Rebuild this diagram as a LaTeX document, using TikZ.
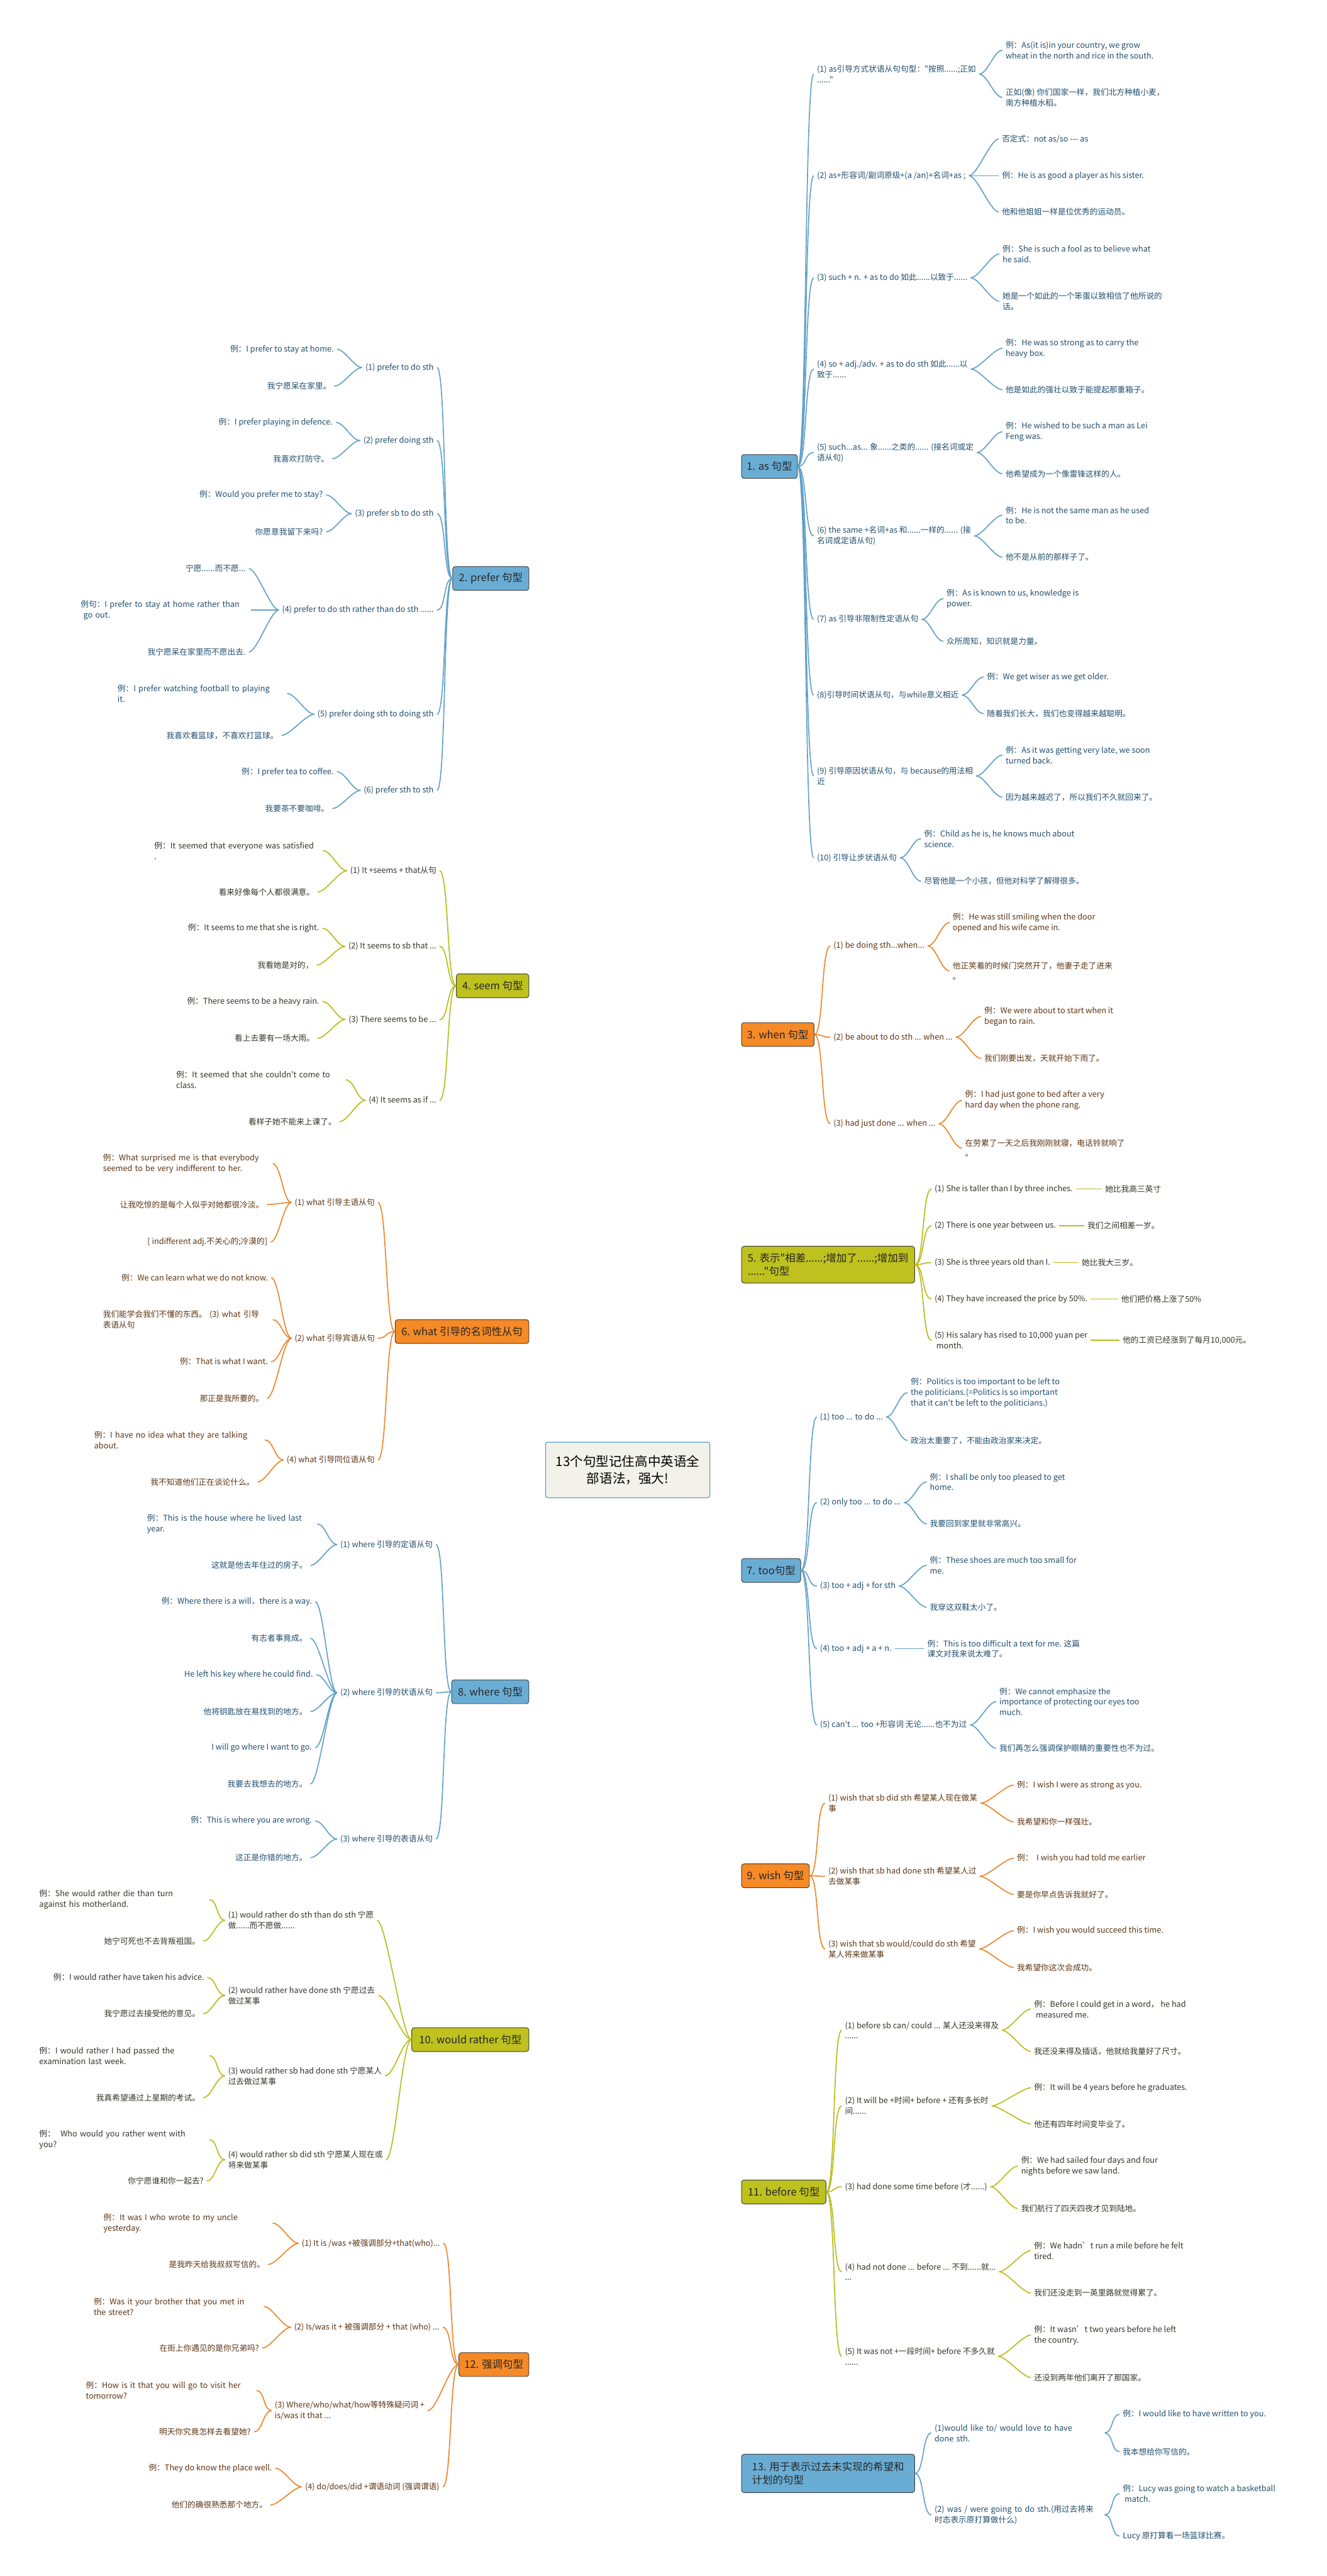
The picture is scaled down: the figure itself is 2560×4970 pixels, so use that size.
\documentclass[tikz,border=0pt]{standalone}
\usepackage{fontspec}
\newfontfamily\ncjk{Noto Sans CJK SC}
\usetikzlibrary{backgrounds}
\definecolor{blueA}{RGB}{106,173,212}
\definecolor{blueL}{RGB}{96,160,200}
\definecolor{blueT}{RGB}{33,78,110}
\definecolor{orA}{RGB}{246,138,38}
\definecolor{orL}{RGB}{238,132,40}
\definecolor{orT}{RGB}{92,52,18}
\definecolor{olA}{RGB}{190,193,30}
\definecolor{olL}{RGB}{184,188,24}
\definecolor{olT}{RGB}{52,52,40}
\definecolor{ctrF}{RGB}{242,242,234}

\begin{document}
\begin{tikzpicture}[x=1pt, y=-1pt,
    topic/.style={draw=black!75, line width=1.2pt, rounded corners=5pt, align=left, inner xsep=10pt, minimum height=46pt, text=black!85, font=\ncjk\fontsize{20}{26}\selectfont},
    rtopic/.style={topic, anchor=west},
    ltopic/.style={topic, anchor=east},
    itemR/.style={anchor=west, align=left, inner xsep=6pt, inner ysep=2pt, font=\ncjk\fontsize{15.4}{20.5}\selectfont},
    itemL/.style={itemR, anchor=east},
    bR/.style={itemR, text=blueT}, bL/.style={itemL, text=blueT},
    oR/.style={itemR, text=orT}, oL/.style={itemL, text=orT},
    gR/.style={itemR, text=olT}, gL/.style={itemL, text=olT},
    mainline/.style={line width=3pt},
    subline/.style={line width=2pt}
]
\fill[white] (0,0) rectangle (2560,4970);
\useasboundingbox (0,0) rectangle (2560,4970);

% centre
\node[draw=blueL, line width=1.5pt, fill=ctrF, rounded corners=4pt, minimum width=317pt, minimum height=107pt, align=center, font=\ncjk\fontsize{25}{33}\selectfont] (ctr) at (1211,2836) {13个句型记住高中英语全\\部语法，强大!};

% main topics, right
\node[rtopic, fill=blueA, minimum width=107pt] (b1) at (1430,900) {1. as 句型};
\node[rtopic, fill=orA, minimum width=140pt] (b3) at (1430,1996) {3. when 句型};
\node[rtopic, fill=olA, minimum width=334pt, minimum height=71pt] (b5) at (1430,2440) {5. 表示"相差......;增加了......;增加到\\......"句型};
\node[rtopic, fill=blueA, minimum width=114pt] (b7) at (1430,3030) {7. too句型};
\node[rtopic, fill=orA, minimum width=131pt] (b9) at (1430,3619) {9. wish 句型};
\node[rtopic, fill=olA, minimum width=163pt] (b11) at (1430,4229) {11. before 句型};
\node[rtopic, fill=blueA, minimum width=334pt, minimum height=74pt] (b13) at (1430,4772) {13. 用于表示过去未实现的希望和\\计划的句型};
% main topics, left
\node[ltopic, fill=blueA, minimum width=147pt] (b2) at (1021,1116) {2. prefer 句型};
\node[ltopic, fill=olA, minimum width=140pt] (b4) at (1021,1902) {4. seem 句型};
\node[ltopic, fill=orA, minimum width=258pt] (b6) at (1021,2569) {6. what 引导的名词性从句};
\node[ltopic, fill=blueA, minimum width=149pt] (b8) at (1021,3264) {8. where 句型};
\node[ltopic, fill=olA, minimum width=226pt] (b10) at (1021,3935) {10. would rather 句型};
\node[ltopic, fill=orA, minimum width=135pt] (b12) at (1021,4562) {12. 强调句型};

% 1. as
\node[bR] (a1) at (1570,143) {(1) as引导方式状语从句句型："按照......;正如\\......"};
\node[bR] (a1-1) at (1934,97) {例：As(it is)in your country, we grow\\wheat in the north and rice in the south.};
\node[bR] (a1-2) at (1934,188) {正如(像) 你们国家一样，我们北方种植小麦，\\南方种植水稻。};
\node[bR] (a2) at (1570,339) {(2) as+形容词/副词原级+(a /an)+名词+as ;};
\node[bR] (a2-1) at (1927,268) {否定式：not as/so --- as};
\node[bR] (a2-2) at (1927,339) {例：He is as good a player as his sister.};
\node[bR] (a2-3) at (1927,409) {他和他姐姐一样是位优秀的运动员。};
\node[bR] (a3) at (1570,536) {(3) such + n. + as to do 如此......以致于......};
\node[bR] (a3-1) at (1928,490) {例：She is such a fool as to believe what\\he said.};
\node[bR] (a3-2) at (1928,581) {她是一个如此的一个笨蛋以致相信了他所说的\\话。};
\node[bR] (a4) at (1570,712) {(4) so + adj./adv. + as to do sth 如此......以\\致于......};
\node[bR] (a4-1) at (1934,672) {例：He was so strong as to carry the\\heavy box.};
\node[bR] (a4-2) at (1934,752) {他是如此的强壮以致于能提起那重箱子。};
\node[bR] (a5) at (1570,873) {(5) such...as... 象......之类的...... (接名词或定\\语从句)};
\node[bR] (a5-1) at (1934,833) {例：He wished to be such a man as Lei\\Feng was.};
\node[bR] (a5-2) at (1934,914) {他希望成为一个像雷锋这样的人。};
\node[bR] (a6) at (1570,1034) {(6) the same +名词+as 和......一样的...... (接\\名词或定语从句)};
\node[bR] (a6-1) at (1934,994) {例：He is not the same man as he used\\to be.};
\node[bR] (a6-2) at (1934,1075) {他不是从前的那样子了。};
\node[bR] (a7) at (1570,1195) {(7) as 引导非限制性定语从句};
\node[bR] (a7-1) at (1820,1155) {例：As is known to us, knowledge is\\power.};
\node[bR] (a7-2) at (1820,1237) {众所周知，知识就是力量。};
\node[bR] (a8) at (1570,1341) {(8)引导时间状语从句，与while意义相近};
\node[bR] (a8-1) at (1898,1306) {例：We get wiser as we get older.};
\node[bR] (a8-2) at (1898,1377) {随着我们长大，我们也变得越来越聪明。};
\node[bR] (a9) at (1570,1497) {(9) 引导原因状语从句，与 because的用法相\\近};
\node[bR] (a9-1) at (1934,1457) {例：As it was getting very late, we soon\\turned back.};
\node[bR] (a9-2) at (1934,1538) {因为越来越迟了，所以我们不久就回来了。};
\node[bR] (a10) at (1570,1655) {(10) 引导让步状语从句};
\node[bR] (a10-1) at (1777,1618) {例：Child as he is, he knows much about\\science.};
\node[bR] (a10-2) at (1777,1700) {尽管他是一个小孩，但他对科学了解得很多。};

% 3. when
\node[oR] (w1) at (1602,1825) {(1) be doing sth...when...};
\node[oR] (w1-1) at (1832,1780) {例：He was still smiling when the door\\opened and his wife came in.};
\node[oR] (w1-2) at (1832,1873) {他正笑着的时候门突然开了，他妻子走了进来\\。};
\node[oR] (w2) at (1602,2001) {(2) be about to do sth ... when ...};
\node[oR] (w2-1) at (1893,1961) {例：We were about to start when it\\began to rain.};
\node[oR] (w2-2) at (1893,2042) {我们刚要出发，天就开始下雨了。};
\node[oR] (w3) at (1602,2168) {(3) had just done ... when ...};
\node[oR] (w3-1) at (1856,2123) {例：I had just gone to bed after a very\\hard day when the phone rang.};
\node[oR] (w3-2) at (1856,2215) {在劳累了一天之后我刚刚就寝，电话铃就响了\\。};

% 5.
\node[gR] (d1) at (1797,2294) {(1) She is taller than I by three inches.};
\node[gR] (d1-1) at (2126,2294) {她比我高三英寸};
\node[gR] (d2) at (1797,2365) {(2) There is one year between us.};
\node[gR] (d2-1) at (2092,2365) {我们之间相差一岁。};
\node[gR] (d3) at (1797,2436) {(3) She is three years old than I.};
\node[gR] (d3-1) at (2081,2436) {她比我大三岁。};
\node[gR] (d4) at (1797,2506) {(4) They have increased the price by 50\%.};
\node[gR] (d4-1) at (2157,2506) {他们把价格上涨了50\%};
\node[gR] (d5) at (1797,2586) {(5) His salary has rised to 10,000 yuan per\\\ month.};
\node[gR] (d5-1) at (2160,2586) {他的工资已经涨到了每月10,000元。};

% 7. too
\node[bR] (t1) at (1576,2734) {(1) too ... to do ...};
\node[bR] (t1-1) at (1751,2687) {例：Politics is too important to be left to\\the politicians.(=Politics is so important\\that it can't be left to the politicians.)};
\node[bR] (t1-2) at (1751,2779) {政治太重要了，不能由政治家来决定。};
\node[bR] (t2) at (1576,2899) {(2) only too ... to do ...};
\node[bR] (t2-1) at (1788,2859) {例：I shall be only too pleased to get\\home.};
\node[bR] (t2-2) at (1788,2940) {我要回到家里就非常高兴。};
\node[bR] (t3) at (1576,3060) {(3) too + adj + for sth};
\node[bR] (t3-1) at (1788,3020) {例：These shoes are much too small for\\me.};
\node[bR] (t3-2) at (1788,3101) {我穿这双鞋太小了。};
\node[bR] (t4) at (1576,3181) {(4) too + adj + a + n.};
\node[bR] (t4-1) at (1783,3181) {例：This is too difficult a text for me. 这篇\\课文对我来说太难了。};
\node[bR] (t5) at (1576,3328) {(5) can't ... too +形容词 无论......也不为过};
\node[bR] (t5-1) at (1922,3283) {例：We cannot emphasize the\\importance of protecting our eyes too\\much.};
\node[bR] (t5-2) at (1922,3373) {我们再怎么强调保护眼睛的重要性也不为过。};

% 9. wish
\node[oR] (h1) at (1592,3479) {(1) wish that sb did sth 希望某人现在做某\\事};
\node[oR] (h1-1) at (1956,3444) {例：I wish I were as strong as you.};
\node[oR] (h1-2) at (1956,3515) {我希望和你一样强壮。};
\node[oR] (h2) at (1592,3620) {(2) wish that sb had done sth 希望某人过\\去做某事};
\node[oR] (h2-1) at (1956,3585) {例：\ \ I wish you had told me earlier};
\node[oR] (h2-2) at (1956,3655) {要是你早点告诉我就好了。};
\node[oR] (h3) at (1592,3760) {(3) wish that sb would/could do sth 希望\\某人将来做某事};
\node[oR] (h3-1) at (1956,3725) {例：I wish you would succeed this time.};
\node[oR] (h3-2) at (1956,3796) {我希望你这次会成功。};

% 11. before
\node[gR] (f1) at (1624,3917) {(1) before sb can/ could ... 某人还没来得及\\......};
\node[gR] (f1-1) at (1989,3876) {例：Before I could get in a word， he had\\\ measured me.};
\node[gR] (f1-2) at (1989,3958) {我还没来得及插话，他就给我量好了尺寸。};
\node[gR] (f2) at (1624,4063) {(2) It will be +时间+ before + 还有多长时\\间......};
\node[gR] (f2-1) at (1989,4028) {例：It will be 4 years before he graduates.};
\node[gR] (f2-2) at (1989,4098) {他还有四年时间变毕业了。};
\node[gR] (f3) at (1624,4219) {(3) had done some time before (才......)};
\node[gR] (f3-1) at (1964,4179) {例：We had sailed four days and four\\nights before we saw land.};
\node[gR] (f3-2) at (1964,4261) {我们航行了四天四夜才见到陆地。};
\node[gR] (f4) at (1624,4383) {(4) had not done ... before ... 不到......就...\\...};
\node[gR] (f4-1) at (1989,4342) {例：We hadn’t run a mile before he felt\\tired.};
\node[gR] (f4-2) at (1989,4424) {我们还没走到一英里路就觉得累了。};
\node[gR] (f5) at (1624,4546) {(5) It was not +一段时间+ before 不多久就\\......};
\node[gR] (f5-1) at (1989,4505) {例：It wasn’t two years before he left\\the country.};
\node[gR] (f5-2) at (1989,4587) {还没到两年他们离开了那国家。};

% 13.
\node[bR, text width=322pt] (g1) at (1797,4694) {(1)would like to/ would love to have\\done sth.};
\node[bR] (g1-1) at (2160,4658) {例：I would like to have written to you.};
\node[bR] (g1-2) at (2160,4730) {我本想给你写信的。};
\node[bR, text width=322pt] (g2) at (1797,4852) {(2) was / were going to do sth.(用过去将来\\时态表示原打算做什么)};
\node[bR] (g2-1) at (2160,4811) {例：Lucy was going to watch a basketball\\\ match.};
\node[bR] (g2-2) at (2160,4893) {Lucy 原打算看一场篮球比赛。};

% 2. prefer
\node[bL] (p1) at (843,709) {(1) prefer to do sth};
\node[bL] (p1-1) at (650,674) {例：I prefer to stay at home.};
\node[bL] (p1-2) at (645,745) {我宁愿呆在家里。};
\node[bL] (p2) at (843,850) {(2) prefer doing sth};
\node[bL] (p2-1) at (648,815) {例：I prefer playing in defence.};
\node[bL] (p2-2) at (641,885) {我喜欢打防守。};
\node[bL] (p3) at (843,991) {(3) prefer sb to do sth};
\node[bL] (p3-1) at (629,955) {例：Would you prefer me to stay?};
\node[bL] (p3-2) at (629,1026) {你愿意我留下来吗?};
\node[bL] (p4) at (843,1177) {(4) prefer to do sth rather than do sth ......};
\node[bL] (p4-1) at (480,1097) {宁愿......而不愿...};
\node[bL, text width=322pt] (p4-2) at (484,1177) {例句：I prefer to stay at home rather than\\\ go out.};
\node[bL] (p4-3) at (480,1258) {我宁愿呆在家里而不愿出去.};
\node[bL] (p5) at (843,1378) {(5) prefer doing sth to doing sth};
\node[bL, text width=321pt] (p5-1) at (554,1338) {例：I prefer watching football to playing\\it.};
\node[bL] (p5-2) at (543,1419) {我喜欢看篮球，不喜欢打篮球。};
\node[bL] (p6) at (843,1525) {(6) prefer sth to sth};
\node[bL] (p6-1) at (650,1489) {例：I prefer tea to coffee.};
\node[bL] (p6-2) at (641,1560) {我要茶不要咖啡。};

% 4. seem
\node[gL] (s1) at (848,1680) {(1) It +seems + that从句};
\node[gL, text width=319pt] (s1-1) at (623,1641) {例：It seemed that everyone was satisfied\\.};
\node[gL] (s1-2) at (613,1721) {看来好像每个人都很满意。};
\node[gL] (s2) at (848,1826) {(2) It seems to sb that ...};
\node[gL] (s2-1) at (622,1791) {例：It seems to me that she is right.};
\node[gL] (s2-2) at (611,1862) {我看她是对的，};
\node[gL] (s3) at (848,1967) {(3) There seems to be ...};
\node[gL] (s3-1) at (622,1932) {例：There seems to be a heavy rain.};
\node[gL] (s3-2) at (613,2003) {看上去要有一场大雨。};
\node[gL] (s4) at (848,2123) {(4) It seems as if ...};
\node[gL, text width=321pt] (s4-1) at (667,2083) {例：It seemed that she couldn't come to\\class.};
\node[gL] (s4-2) at (655,2164) {看样子她不能来上课了。};

% 6. what
\node[oL] (m1) at (729,2320) {(1) what 引导主语从句};
\node[oL, text width=321pt] (m1-1) at (526,2245) {例：What surprised me is that everybody\\seemed to be very indifferent to her.};
\node[oL] (m1-2) at (515,2324) {让我吃惊的是每个人似乎对她都很冷淡。};
\node[oL] (m1-3) at (522,2396) {[ indifferent adj.不关心的;冷漠的]};
\node[oL] (m2) at (729,2582) {(2) what 引导宾语从句};
\node[oL] (m2-1) at (523,2465) {例：We can learn what we do not know.};
\node[oL, text width=321pt] (m2-2) at (526,2546) {我们能学会我们不懂的东西。 (3) what 引导\\表语从句};
\node[oL] (m2-3) at (523,2627) {例：That is what I want.};
\node[oL] (m2-4) at (515,2698) {那正是我所要的。};
\node[oL] (m4) at (729,2817) {(4) what 引导同位语从句};
\node[oL, text width=323pt] (m4-1) at (511,2778) {例：I have no idea what they are talking\\about.};
\node[oL] (m4-2) at (497,2859) {我不知道他们正在谈论什么。};

% 8. where
\node[bL] (r1) at (841,2980) {(1) where 引导的定语从句};
\node[bL, text width=322pt] (r1-1) at (612,2940) {例：This is the house where he lived last\\year.};
\node[bL] (r1-2) at (599,3020) {这就是他去年住过的房子。};
\node[bL] (r2) at (841,3266) {(2) where 引导的状语从句};
\node[bL] (r2-1) at (608,3090) {例：Where there is a will，there is a way.};
\node[bL] (r2-2) at (599,3161) {有志者事竟成。};
\node[bL] (r2-3) at (610,3231) {He left his key where he could find.};
\node[bL] (r2-4) at (599,3302) {他将钥匙放在易找到的地方。};
\node[bL] (r2-5) at (608,3372) {I will go where I want to go.};
\node[bL] (r2-6) at (599,3442) {我要去我想去的地方。};
\node[bL] (r3) at (841,3548) {(3) where 引导的表语从句};
\node[bL] (r3-1) at (608,3513) {例：This is where you are wrong.};
\node[bL] (r3-2) at (599,3584) {这正是你错的地方。};

% 10. would rather
\node[gR] (q1) at (434,3705) {(1) would rather do sth than do sth 宁愿\\做......而不愿做......};
\node[gL, text width=322pt] (q1-1) at (404,3665) {例：She would rather die than turn\\against his motherland.};
\node[gL] (q1-2) at (392,3745) {她宁可死也不去背叛祖国。};
\node[gR] (q2) at (434,3850) {(2) would rather have done sth 宁愿过去\\做过某事};
\node[gL] (q2-1) at (400,3815) {例：I would rather have taken his advice.};
\node[gL] (q2-2) at (392,3885) {我宁愿过去接受他的意见。};
\node[gR] (q3) at (434,4005) {(3) would rather sb had done sth 宁愿某人\\过去做过某事};
\node[gL, text width=322pt] (q3-1) at (404,3966) {例：I would rather I had passed the\\examination last week.};
\node[gL] (q3-2) at (392,4047) {我真希望通过上星期的考试。};
\node[gR] (q4) at (434,4167) {(4) would rather sb did sth 宁愿某人现在或\\将来做某事};
\node[gL, text width=322pt] (q4-1) at (404,4128) {例：\ \ Who would you rather went with\\you?};
\node[gL] (q4-2) at (399,4208) {你宁愿谁和你一起去?};

% 12. emphasis
\node[oL] (k1) at (855,4328) {(1) It is /was +被强调部分+that(who)...};
\node[oL, text width=320pt] (k1-1) at (526,4289) {例：It was I who wrote to my uncle\\yesterday.};
\node[oL] (k1-2) at (517,4369) {是我昨天给我叔叔写信的。};
\node[oL] (k2) at (854,4490) {(2) Is/was it + 被强调部分 + that (who) ...};
\node[oL, text width=322pt] (k2-1) at (509,4450) {例：Was it your brother that you met in\\the street?};
\node[oL] (k2-2) at (506,4530) {在街上你遇见的是你兄弟吗?};
\node[oR] (k3) at (524,4651) {(3) Where/who/what/how等特殊疑问词 +\\is/was it that ...};
\node[oL, text width=323pt] (k3-1) at (495,4612) {例：How is it that you will go to visit her\\tomorrow?};
\node[oL] (k3-2) at (490,4692) {明天你究竟怎样去看望她?};
\node[oL] (k4) at (854,4798) {(4) do/does/did +谓语动词 (强调谓语)};
\node[oL] (k4-1) at (531,4762) {例：They do know the place well.};
\node[oL] (k4-2) at (522,4833) {他们的确很熟悉那个地方。};

% centre to main topics
\begin{pgfonlayer}{background}
\foreach \b/\c in {b1/blueL,b3/orL,b5/olL,b7/blueL,b9/orL,b11/olL,b13/blueL}
  \draw[mainline, draw=\c] (ctr.center) .. controls +(80,0) and +(-30,0) .. (\b.west);
\foreach \b/\c in {b2/blueL,b4/olL,b6/orL,b8/blueL,b10/olL,b12/orL}
  \draw[mainline, draw=\c] (ctr.center) .. controls +(-80,0) and +(30,0) .. (\b.east);
\end{pgfonlayer}

% main topics to items
\foreach \b/\k/\c in {b1/a1/blueL,b1/a2/blueL,b1/a3/blueL,b1/a4/blueL,b1/a5/blueL,b1/a6/blueL,b1/a7/blueL,b1/a8/blueL,b1/a9/blueL,b1/a10/blueL,
    b3/w1/orL,b3/w2/orL,b3/w3/orL, b5/d1/olL,b5/d2/olL,b5/d3/olL,b5/d4/olL,b5/d5/olL,
    b7/t1/blueL,b7/t2/blueL,b7/t3/blueL,b7/t4/blueL,b7/t5/blueL, b9/h1/orL,b9/h2/orL,b9/h3/orL,
    b11/f1/olL,b11/f2/olL,b11/f3/olL,b11/f4/olL,b11/f5/olL, b13/g1/blueL,b13/g2/blueL}
  \draw[subline, draw=\c] (\b.east) .. controls +(18,0) and +(-18,0) .. (\k.west);
\foreach \b/\k/\c in {b2/p1/blueL,b2/p2/blueL,b2/p3/blueL,b2/p4/blueL,b2/p5/blueL,b2/p6/blueL,
    b4/s1/olL,b4/s2/olL,b4/s3/olL,b4/s4/olL, b6/m1/orL,b6/m2/orL,b6/m4/orL,
    b8/r1/blueL,b8/r2/blueL,b8/r3/blueL, b10/q1/olL,b10/q2/olL,b10/q3/olL,b10/q4/olL,
    b12/k1/orL,b12/k2/orL,b12/k3/orL,b12/k4/orL}
  \draw[subline, draw=\c] (\b.west) .. controls +(-18,0) and +(18,0) .. (\k.east);

% items to examples
\foreach \k/\n/\c in {a1/2/blueL,a2/3/blueL,a3/2/blueL,a4/2/blueL,a5/2/blueL,a6/2/blueL,a7/2/blueL,a8/2/blueL,a9/2/blueL,a10/2/blueL,
    w1/2/orL,w2/2/orL,w3/2/orL, t1/2/blueL,t2/2/blueL,t3/2/blueL,t5/2/blueL,
    h1/2/orL,h2/2/orL,h3/2/orL, f1/2/olL,f2/2/olL,f3/2/olL,f4/2/olL,f5/2/olL, g1/2/blueL,g2/2/blueL}
  \foreach \i in {1,...,\n}
    \draw[subline, draw=\c] (\k.east) .. controls +(16,0) and +(-16,0) .. (\k-\i.west);
\foreach \k/\n/\c in {p1/2/blueL,p2/2/blueL,p3/2/blueL,p4/3/blueL,p5/2/blueL,p6/2/blueL,
    s1/2/olL,s2/2/olL,s3/2/olL,s4/2/olL, m1/3/orL,m2/4/orL,m4/2/orL,
    r1/2/blueL,r2/6/blueL,r3/2/blueL, q1/2/olL,q2/2/olL,q3/2/olL,q4/2/olL,
    k1/2/orL,k2/2/orL,k3/2/orL,k4/2/orL}
  \foreach \i in {1,...,\n}
    \draw[subline, draw=\c] (\k.west) .. controls +(-16,0) and +(16,0) .. (\k-\i.east);
\foreach \k/\c in {d1/olL,d2/olL,d3/olL,d4/olL,d5/olL,t4/blueL}
  \draw[subline, draw=\c] (\k.east) -- (\k-1.west);
\end{tikzpicture}
\end{document}
